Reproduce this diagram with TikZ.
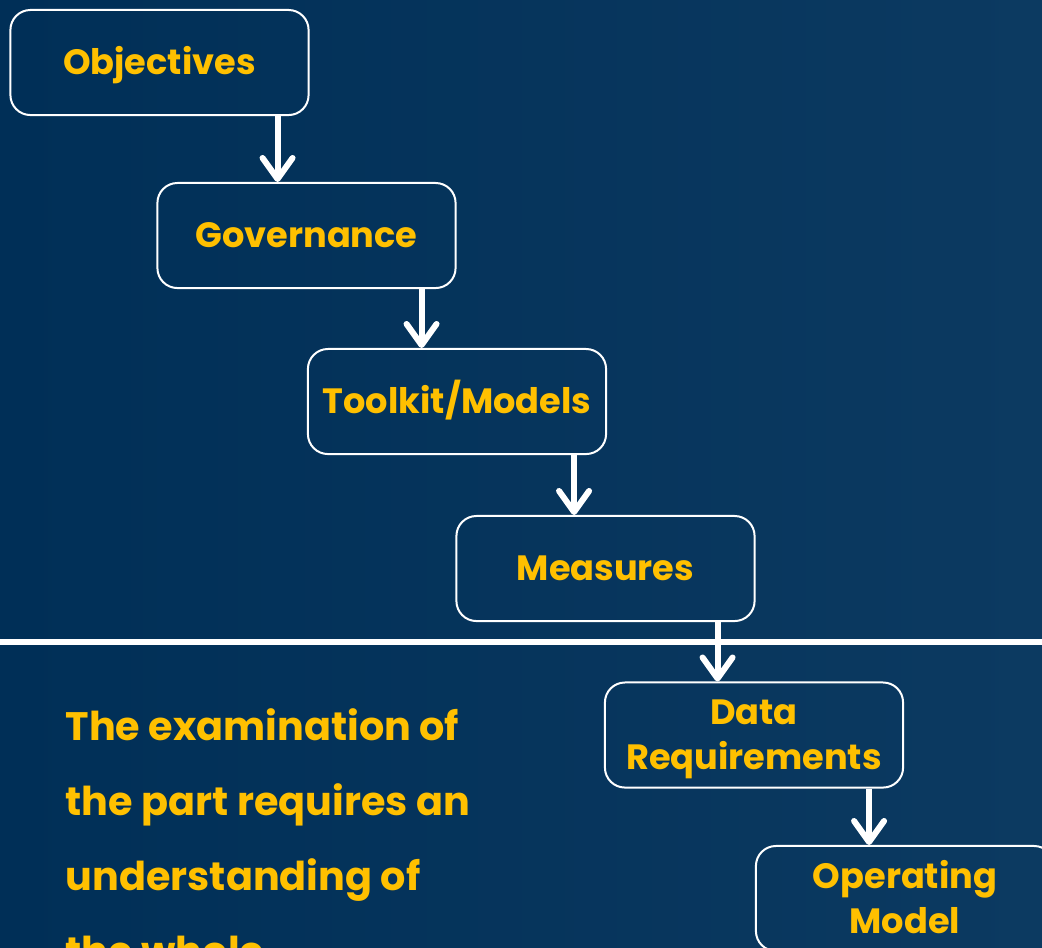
\documentclass[tikz,border=0pt]{standalone}
\usepackage{fontspec}
\setmainfont{Poppins}
\usetikzlibrary{arrows.meta, calc}
\definecolor{navyleft}{HTML}{002F57}
\definecolor{navyright}{HTML}{0C3A61}
\definecolor{gold}{HTML}{FFC000}

\begin{document}
\begin{tikzpicture}[
    x=0.01cm, y=-0.01cm,
    stepbox/.style={
      rectangle, rounded corners=0.2cm,
      draw=white, line width=0.02cm,
      text=gold, align=center,
      font=\fontsize{10}{12.8}\selectfont\bfseries,
      text height=7pt, text depth=0pt,
      minimum width=2.98cm, minimum height=1.05cm,
      inner sep=2pt
    },
    twoline/.style={text height=19.8pt},
    note/.style={
      anchor=base west, align=left, inner sep=0pt,
      text=gold, font=\fontsize{11.3}{21.3}\selectfont\bfseries
    },
    arr/.style={-{Straight Barb[round, length=0.21cm, width=0.3cm]}, line width=0.06cm, color=white}
  ]
  % Background
  \clip (0,0) rectangle (1042,947);
  \shade[left color=navyleft, right color=navyright] (0,0) rectangle (1042,947);
  % Steps
  \node[stepbox] (obj)  at (159.5,62.5) {Objectives};
  \node[stepbox] (gov)  at (306.5,235.5) {Governance};
  \node[stepbox] (tool) at (457,401.5) {Toolkit/Models};
  \node[stepbox] (meas) at (605.5,568.5) {Measures};
  \node[stepbox, twoline] (data) at (754,735) {Data\\Requirements};
  \node[stepbox, twoline] (oper) at (905,898.5) {Operating\\Model};
  % Divider
  \draw[white, line width=0.06cm] (0,642) -- (1042,642);
  % Statement (anchored on its last line)
  \node[note] (txt) at (65,965) {The examination of\\the part requires an\\understanding of\\the whole};
  % Arrows between steps
  \coordinate (a1) at ([xshift=-0.32cm]obj.south east);
  \coordinate (a2) at ([xshift=-0.35cm]gov.south east);
  \coordinate (a3) at ([xshift=-0.33cm]tool.south east);
  \coordinate (a4) at ([xshift=-0.38cm]meas.south east);
  \coordinate (a5) at ([xshift=-0.35cm]data.south east);
  \draw[arr] (a1) -- (a1 |- gov.north);
  \draw[arr] (a2) -- (a2 |- tool.north);
  \draw[arr] (a3) -- (a3 |- meas.north);
  \draw[arr] (a4) -- (a4 |- data.north);
  \draw[arr] (a5) -- (a5 |- oper.north);
\end{tikzpicture}
\end{document}
